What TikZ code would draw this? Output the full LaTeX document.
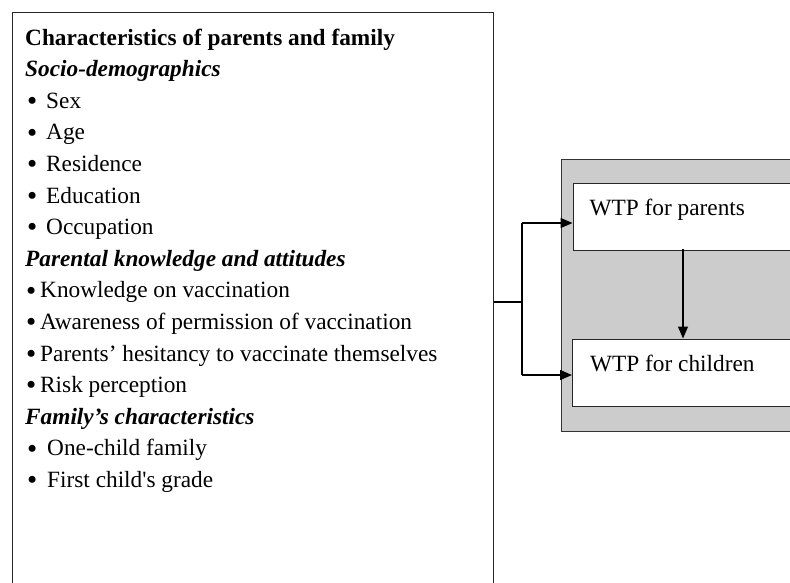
\documentclass[tikz,border=0pt]{standalone}
\usepackage{fontspec}
\setmainfont{Liberation Serif}[Ligatures=TeXOff]
\usetikzlibrary{arrows.meta, positioning}
\definecolor{panelgray}{HTML}{CCCCCC}
\tikzstyle{listbox} = [draw=black!85, line width=1.3pt, fill=white,
minimum width=481pt, minimum height=620pt, anchor=north west, inner sep=0pt]
\tikzstyle{panel} = [draw=black!80, line width=0.9pt, fill=panelgray,
minimum width=250pt, minimum height=272pt, anchor=north west, inner sep=0pt]
\tikzstyle{wtpbox} = [draw=black!85, line width=0.9pt, fill=white,
minimum width=230pt, minimum height=67pt, anchor=north west, inner sep=0pt]
\tikzstyle{line} = [anchor=base west, inner sep=0pt, font=\fontsize{23.3}{27}\selectfont]
\tikzstyle{arrow} = [line width=1.2pt, -{Triangle[length=12pt, width=10pt]}]
\tikzstyle{feed} = [line width=2.4pt]
\newcommand{\dotmark}{\raisebox{-2.2pt}{\scalebox{1.25}{•}}}

\begin{document}
\begin{tikzpicture}[x=1pt, y=-1pt]
        \useasboundingbox (0,0) rectangle (790,582);
        \clip (0,0) rectangle (790,582);

        % Caja de caracteristicas
        \node[listbox] (chars) at (11.5,12) {};
        \node[line] (title) at (25,45) {\textbf{Characteristics of parents and family}};
        \node[line] (socio) at (25,{45+31.6*1}) {\textbf{\textit{Socio-demographics}}};
        \foreach \txt [count=\i from 2] in {Sex, Age, Residence, Education, Occupation}
            \node[line] (socio\i) at (27,{45+31.6*\i}) {\makebox[19pt][l]{\dotmark}\txt};
        \node[line] (know) at (25,{45+31.6*7}) {\textbf{\textit{Parental knowledge and attitudes}}};
        \foreach \txt [count=\i from 8] in {Knowledge on vaccination, Awareness of permission of vaccination,
            Parents’ hesitancy to vaccinate themselves, Risk perception}
            \node[line] (know\i) at (26,{45+31.6*\i}) {\makebox[14pt][l]{\dotmark}\txt};
        \node[line] (fam) at (25,{45+31.6*12}) {\textbf{\textit{Family’s characteristics}}};
        \foreach \txt [count=\i from 13] in {One-child family, First child's grade}
            \node[line] (fam\i) at (27,{45+31.6*\i}) {\makebox[20pt][l]{\dotmark}\txt};

        % Panel WTP
        \node[panel] (wtp) at (561,159) {};
        \node[wtpbox] (parents) at (572.5,183) {};
        \node[wtpbox] (children) at (572,338.5) {};
        \node[line] (parentslbl) at ([xshift=17pt, yshift=-32pt]parents.north west) {WTP for parents};
        \node[line] (childrenlbl) at ([xshift=18pt, yshift=-33pt]children.north west) {WTP for children};

        % Conectores
        \coordinate (split) at (522,302);
        \coordinate (toparents) at (522,223);
        \coordinate (tochildren) at (522,375);
        \draw[feed] (chars.east |- split) -- (split);
        \draw[feed] (toparents) -- (tochildren);
        \draw[arrow] (toparents) -- (toparents -| parents.west);
        \draw[arrow] (tochildren) -- (tochildren -| children.west);
        \draw[arrow] (683,249) coordinate (down) -- (down |- children.north);

    \end{tikzpicture}
\end{document}
